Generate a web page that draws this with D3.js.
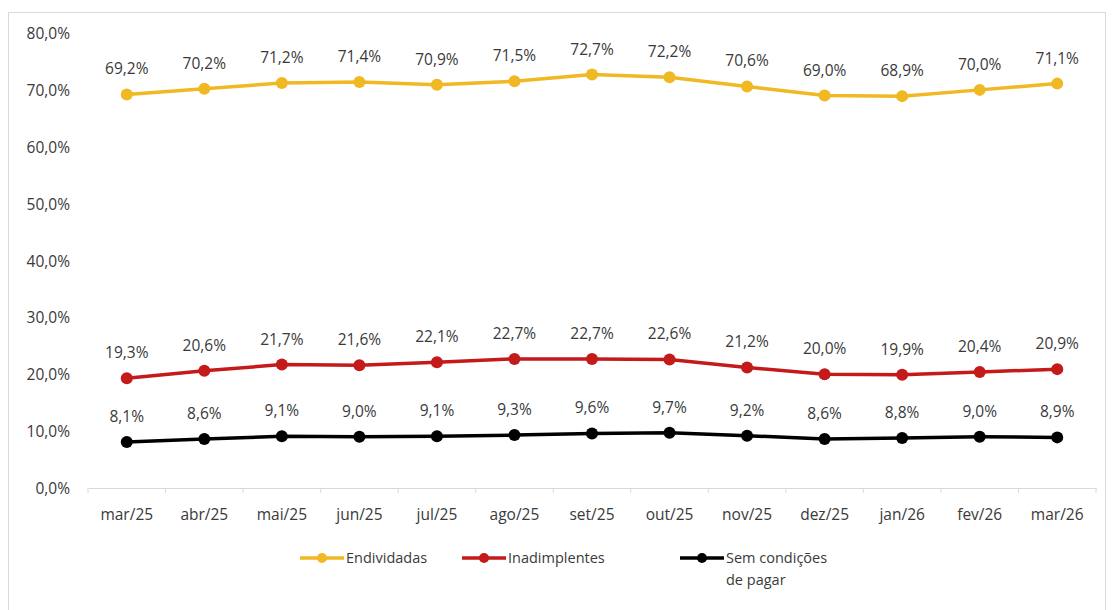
<!DOCTYPE html>
<html>
<head>
<meta charset="utf-8">
<script src="https://cdn.jsdelivr.net/npm/d3@7"></script>
<style>
  body { margin: 0; background: #fff; }
  svg text { font-family: "Open Sans", sans-serif; fill: #3A3A3A; }
</style>
</head>
<body>
<svg id="chart" width="1113" height="610"></svg>
<script>
// dados
var meses = ["mar/25","abr/25","mai/25","jun/25","jul/25","ago/25","set/25","out/25","nov/25","dez/25","jan/26","fev/26","mar/26"];
var endividadas = [69.2,70.2,71.2,71.4,70.9,71.5,72.7,72.2,70.6,69.0,68.9,70.0,71.1];
var inadimplentes = [19.3,20.6,21.7,21.6,22.1,22.7,22.7,22.6,21.2,20.0,19.9,20.4,20.9];
var semCondicoes = [8.1,8.6,9.1,9.0,9.1,9.3,9.6,9.7,9.2,8.6,8.8,9.0,8.9];
var yTicks = [0,10,20,30,40,50,60,70,80];

var series = [
  {nome: "Endividadas", valores: endividadas, cor: "#F0B823"},
  {nome: "Inadimplentes", valores: inadimplentes, cor: "#C41A1A"},
  {nome: "Sem condições de pagar", valores: semCondicoes, cor: "#000000"}
];

var svg = d3.select("#chart");
var fs = "15.5px";
var fmt = function(v){ return v.toFixed(1).replace(".", ",") + "%"; };

// borda externa
svg.append("rect").attr("x", 8.5).attr("y", 12.5).attr("width", 1097).attr("height", 600)
  .attr("fill", "none").attr("stroke", "#D9D9D9");

var x = d3.scaleBand().domain(meses).range([88, 1096]);
var y = d3.scaleLinear().domain([0, 80]).range([488, 33]);

// eixo y (so texto)
svg.selectAll(".ylab").data(yTicks).enter().append("text")
  .attr("x", 70).attr("y", function(d){ return y(d) + 6; })
  .attr("text-anchor", "end").style("font-size", fs)
  .text(function(d){ return d.toFixed(1).replace(".", ",") + "%"; });

// eixo x
var xAxis = svg.append("g").attr("transform", "translate(0,488)")
  .call(d3.axisBottom(x).tickSize(0).tickPadding(21));
xAxis.select(".domain").attr("stroke", "#D9D9D9");
xAxis.selectAll("text").style("font-size", fs).style("font-family", "Open Sans").attr("fill", "#3A3A3A");
// marcas entre categorias
xAxis.selectAll(".sep").data(d3.range(meses.length + 1)).enter().append("line")
  .attr("x1", function(i){ return 88 + i * x.step(); })
  .attr("x2", function(i){ return 88 + i * x.step(); })
  .attr("y1", 0).attr("y2", 5).attr("stroke", "#D9D9D9");

var cx = function(d, i){ return x(meses[i]) + x.bandwidth() / 2; };
var line = d3.line().x(cx).y(function(d){ return y(d); });

series.forEach(function(s){
  var g = svg.append("g");
  g.append("path").datum(s.valores).attr("d", line)
    .attr("fill", "none").attr("stroke", s.cor).attr("stroke-width", 3.5);
  g.selectAll("circle").data(s.valores).enter().append("circle")
    .attr("cx", cx).attr("cy", function(d){ return y(d); })
    .attr("r", 6).attr("fill", s.cor);
  g.selectAll("text").data(s.valores).enter().append("text")
    .attr("x", cx).attr("y", function(d){ return y(d) - 20; })
    .attr("text-anchor", "middle").style("font-size", fs)
    .text(fmt);
});

// legenda
var legX = [300, 462, 680];
series.forEach(function(s, i){
  var g = svg.append("g").attr("transform", "translate(" + legX[i] + ",558)");
  g.append("line").attr("x1", 0).attr("x2", 44).attr("stroke", s.cor).attr("stroke-width", 3.5);
  g.append("circle").attr("cx", 22).attr("r", 5).attr("fill", s.cor);
  var t = g.append("text").attr("x", 46).attr("y", 5).style("font-size", "14.5px");
  if (i === 2) {
    t.append("tspan").text("Sem condições");
    t.append("tspan").attr("x", 46).attr("dy", 22).text("de pagar");
  } else {
    t.text(s.nome);
  }
});
</script>
</body>
</html>
